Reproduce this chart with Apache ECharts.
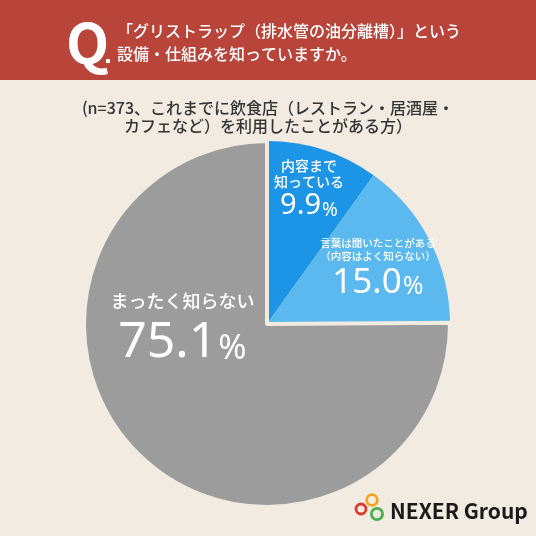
<!DOCTYPE html>
<html><head><meta charset="utf-8">
<script src="https://cdn.jsdelivr.net/npm/echarts@6/dist/echarts.min.js"></script>
<style>html,body{margin:0;padding:0;background:#f2ebe1}#c{width:536px;height:536px}</style>
</head><body><div id="c"></div>
<script>
const categories = ['内容まで\n知っている', '言葉は聞いたことがある\n（内容はよく知らない）', 'まったく知らない'];
const values = [9.9, 15.0, 75.1];
const colors = ['#1d95e6', '#5bb9ef', '#9c9c9c'];
const titleLines = ['「グリストラップ（排水管の油分離槽）」という', '設備・仕組みを知っていますか。'];
const subtitleLines = ['(n=373、これまでに飲食店（レストラン・居酒屋・', 'カフェなど）を利用したことがある方）'];
const BG = '#f2ebe1';
const F = '"Noto Sans CJK JP", "Noto Sans", sans-serif';
const NF = '"Noto Sans", "Noto Sans CJK JP", sans-serif';

const labelStyles = [
  { rich: { a: {fontSize: 14, lineHeight: 16, color: '#fff', fontFamily: F, fontWeight: 500},
            v: {fontSize: 29, lineHeight: 32, color: '#fff', fontFamily: NF, fontWeight: 'normal'},
            p: {fontSize: 19, lineHeight: 32, color: '#fff', fontFamily: NF, verticalAlign: 'bottom', padding: [0,0,2,1]} } },
  { rich: { a: {fontSize: 10.5, lineHeight: 13, color: '#fff', fontFamily: F, fontWeight: 500},
            v: {fontSize: 35, lineHeight: 40, color: '#fff', fontFamily: NF, fontWeight: 'normal'},
            p: {fontSize: 25, lineHeight: 40, color: '#fff', fontFamily: NF, verticalAlign: 'bottom', padding: [0,0,3,1]} } },
  { rich: { a: {fontSize: 18, lineHeight: 28, color: '#fff', fontFamily: F, fontWeight: 500},
            v: {fontSize: 50, lineHeight: 56, color: '#fff', fontFamily: NF, fontWeight: 'normal'},
            p: {fontSize: 34, lineHeight: 56, color: '#fff', fontFamily: NF, verticalAlign: 'bottom', padding: [0,0,5,1]} } }
];
const labelShift = [[13, -44], [27, -11], [-18, -62]];

const data = categories.map((name, i) => ({
  name: name,
  value: values[i],
  itemStyle: i === 2 ? {color: colors[i], borderColor: BG, borderWidth: 4} : {color: colors[i], borderWidth: 0},
  label: labelStyles[i]
}));

const chart = echarts.init(document.getElementById('c'), null, {renderer: 'canvas'});
chart.setOption({
  backgroundColor: BG,
  animation: false,
  graphic: [
    {type: 'rect', shape: {x: 0, y: 0, width: 536, height: 80}, style: {fill: '#b8443a'}, z: 0},
    {type: 'text', x: 66, y: 43, style: {text: 'Q', fill: '#fff', font: 'bold 56px ' + F, textVerticalAlign: 'middle'}},
    {type: 'rect', shape: {x: 106, y: 59, width: 4, height: 4}, style: {fill: '#fff'}},
    {type: 'text', x: 117, y: 31, style: {text: titleLines[0], fill: '#fff', font: '500 16px ' + F, textVerticalAlign: 'middle'}},
    {type: 'text', x: 117, y: 54, style: {text: titleLines[1], fill: '#fff', font: '500 16px ' + F, textVerticalAlign: 'middle'}},
    {type: 'text', x: 268, y: 108, style: {text: subtitleLines[0], fill: '#333', font: '500 16px ' + F, textAlign: 'center', textVerticalAlign: 'middle'}},
    {type: 'text', x: 268, y: 126, style: {text: subtitleLines[1], fill: '#333', font: '500 16px ' + F, textAlign: 'center', textVerticalAlign: 'middle'}},
    {type: 'circle', shape: {cx: 361, cy: 509, r: 5}, style: {fill: 'none', stroke: '#d93a2e', lineWidth: 2.8}},
    {type: 'circle', shape: {cx: 372, cy: 500, r: 5.3}, style: {fill: 'none', stroke: '#f2a623', lineWidth: 2.8}},
    {type: 'circle', shape: {cx: 377, cy: 514, r: 5.6}, style: {fill: 'none', stroke: '#4caf50', lineWidth: 2.8}},
    {type: 'text', x: 390, y: 511, style: {text: 'NEXER Group', fill: '#1a1a1a', font: 'bold 21px ' + F, textVerticalAlign: 'middle'}}
  ],
  series: [{
    type: 'pie',
    center: [267, 324],
    radius: 183,
    startAngle: 90,
    clockwise: true,
    silent: true,
    emphasis: {disabled: true},
    label: {
      show: true,
      position: 'inside',
      align: 'center',
      formatter: p => p.name.split('\n').map(s => '{a|' + s + '}').join('\n') + '\n{v|' + p.value.toFixed(1) + '}{p|%}'
    },
    labelLine: {show: false},
    labelLayout: p => ({dx: labelShift[p.dataIndex][0], dy: labelShift[p.dataIndex][1]}),
    data: data
  }]
});
</script></body></html>
